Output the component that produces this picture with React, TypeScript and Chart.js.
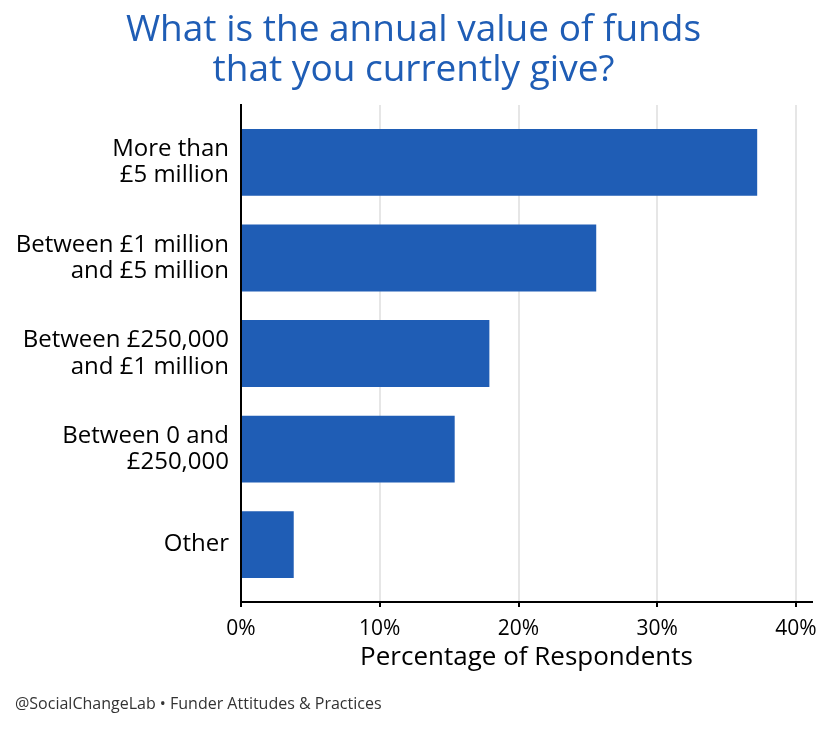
import { useEffect, useRef } from "react";
import { Chart, registerables } from "chart.js";

Chart.register(...registerables);

const categories = [
  ["More than", "£5 million"],
  ["Between £1 million", "and £5 million"],
  ["Between £250,000", "and £1 million"],
  ["Between 0 and", "£250,000"],
  ["Other"],
];
const percentages = [37.2, 25.6, 17.9, 15.4, 3.8];
const xTicks = [0, 10, 20, 30, 40];

const FONT = "'Open Sans', sans-serif";
const BLUE = "#1f5db5";

const App = () => {
  const canvasRef = useRef<HTMLCanvasElement>(null);

  useEffect(() => {
    const ctx = canvasRef.current?.getContext("2d");
    if (!ctx) return;

    const chart = new Chart(ctx, {
      type: "bar",
      data: {
        datasets: [
          {
            data: percentages.map((v, i) => ({ x: v, y: i })),
            backgroundColor: BLUE,
            borderWidth: 0,
            categoryPercentage: 1,
            barPercentage: 0.7,
          },
        ],
      },
      options: {
        indexAxis: "y",
        responsive: false,
        animation: false,
        layout: { padding: { left: 15, right: 18, top: 0, bottom: 0 } },
        plugins: {
          legend: { display: false },
          tooltip: { enabled: false },
          title: {
            display: true,
            text: ["What is the annual value of funds", "that you currently give?"],
            color: BLUE,
            font: { family: FONT, size: 37, weight: "normal", lineHeight: "40px" },
            padding: { top: 10, bottom: 15 },
          },
          subtitle: {
            display: true,
            position: "bottom",
            align: "start",
            text: "@SocialChangeLab • Funder Attitudes & Practices",
            color: "#333333",
            font: { family: FONT, size: 16, weight: "normal", lineHeight: 1.2 },
            padding: { top: 0, bottom: 16.4 },
          },
        },
        scales: {
          x: {
            type: "linear",
            min: 0,
            max: 41.15,
            afterBuildTicks: (s: any) => {
              s.ticks = xTicks.map((v) => ({ value: v }));
            },
            afterFit: (s: any) => {
              s.height = 92.4;
              s.paddingLeft = 0;
              s.paddingRight = 0;
            },
            ticks: {
              color: "#000",
              font: { family: FONT, size: 21 },
              padding: 9,
              callback: (v: any) => v + "%",
            },
            grid: {
              color: "#e6e6e6",
              lineWidth: 2,
              tickColor: "#000",
              tickWidth: 2,
              tickLength: 5,
            },
            border: { display: true, color: "#000", width: 2, z: 1 },
            title: {
              display: true,
              text: "Percentage of Respondents",
              color: "#000",
              font: { family: FONT, size: 26, lineHeight: 1.2 },
              padding: { top: 0, bottom: 20.8 },
            },
          },
          y: {
            type: "linear",
            reverse: true,
            offset: false,
            min: -0.6,
            max: 4.6,
            afterBuildTicks: (s: any) => {
              s.ticks = categories.map((_, i) => ({ value: i }));
            },
            afterFit: (s: any) => {
              s.width = 226;
              s.paddingTop = 0;
              s.paddingBottom = 0;
            },
            ticks: {
              color: "#000",
              font: { family: FONT, size: 24, lineHeight: 1.1 },
              padding: 12,
              autoSkip: false,
              callback: (v: any) => categories[v] ?? "",
            },
            grid: { display: false, drawTicks: false, offset: false },
            border: { display: true, color: "#000", width: 2, z: 1 },
          },
        },
      },
    } as any);

    return () => {
      chart.destroy();
    };
  }, []);

  return (
    <div style={{ position: "fixed", left: 0, top: 0, width: 830, height: 730, background: "#fff" }}>
      <canvas ref={canvasRef} width={830} height={730} />
    </div>
  );
};

export default App;
